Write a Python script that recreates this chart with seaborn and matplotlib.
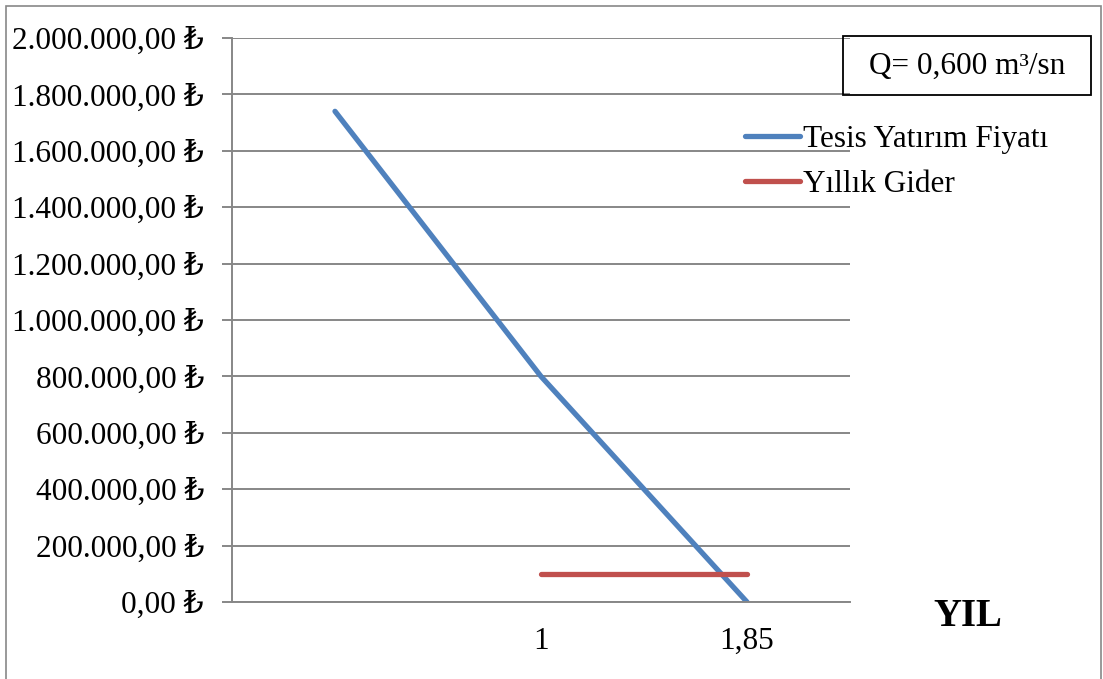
import numpy as np
import pandas as pd
import matplotlib
matplotlib.use("Agg")
import matplotlib.pyplot as plt
from matplotlib.patches import Rectangle
from matplotlib.ticker import FixedLocator, FuncFormatter
import seaborn as sns

# chart values
categories = ["", "1", "1,85"]
yatirim = [1740000, 800000, 0]          # Tesis Yatırım Fiyatı
gider = [np.nan, 100000, 100000]        # Yıllık Gider
y_ticks = list(range(0, 2000001, 200000))

sns.set_style("white")
plt.rcParams['font.family'] = ['Liberation Serif', 'DejaVu Serif', 'DejaVu Sans']
plt.rcParams['font.size'] = 22.5
plt.rcParams['text.color'] = 'black'
plt.rcParams['xtick.color'] = 'black'
plt.rcParams['ytick.color'] = 'black'
plt.rcParams['lines.solid_capstyle'] = 'round'

df = pd.DataFrame({
    'x': list(range(len(categories))) * 2,
    'value': yatirim + gider,
    'seri': ['Tesis Yatırım Fiyatı'] * len(categories) + ['Yıllık Gider'] * len(categories),
})

W, H = 1103, 679
fig = plt.figure(figsize=(W / 100, H / 100), dpi=100)
ax = fig.add_axes([232 / W, 1 - 602 / H, (850 - 232) / W, (602 - 38) / H])

sns.lineplot(data=df, x='x', y='value', hue='seri',
             palette={'Tesis Yatırım Fiyatı': '#4F81BD', 'Yıllık Gider': '#C0504D'},
             linewidth=3.8, ax=ax, legend=True)

grid_c = '#878787'
ax.set_xlim(-0.5, len(categories) - 0.5)
ax.set_ylim(0, 2000000)
ax.set_yticks(y_ticks)
ax.yaxis.set_major_formatter(FuncFormatter(
    lambda v, p: f"{v:,.2f}".replace(",", "X").replace(".", ",").replace("X", ".") + " ₺"))
ax.yaxis.grid(True, color=grid_c, linewidth=1.4)
ax.set_axisbelow(True)

ax.set_xticks(range(len(categories)))
ax.set_xticklabels(categories)
ax.xaxis.set_minor_locator(FixedLocator([i - 0.5 for i in range(len(categories) + 1)]))
ax.tick_params(axis='x', which='major', length=0, pad=18, labelcolor='black')
ax.tick_params(axis='x', which='minor', length=7.2, width=1.4, color=grid_c, direction='out')
ax.tick_params(axis='y', length=7.2, width=1.4, color=grid_c, direction='out', pad=13,
               left=True, labelcolor='black')
ax.set_xlabel('')
ax.set_ylabel('')

for s in ['top', 'right']:
    ax.spines[s].set_visible(False)
for s in ['left', 'bottom']:
    ax.spines[s].set_color(grid_c)
    ax.spines[s].set_linewidth(1.4)

leg = ax.legend(loc='upper left', bbox_to_anchor=(745 / W, 1 - 125 / H),
                bbox_transform=fig.transFigure, frameon=False,
                handlelength=1.75, handletextpad=0.1, labelspacing=0.5,
                borderpad=0, borderaxespad=0)
for line in leg.get_lines():
    line.set_linewidth(3.8)
for t in leg.get_texts():
    t.set_color('black')

# Q box
fig.patches.append(Rectangle((843 / W, 1 - 95 / H), (1091 - 843) / W, (95 - 36) / H,
                             transform=fig.transFigure, fill=False,
                             edgecolor='black', linewidth=1.3))
fig.text(967 / W, 1 - 66 / H, "Q= 0,600 m³/sn", ha='center', va='center')

fig.text(968 / W, 1 - 616 / H, "YIL", ha='center', va='center',
         fontsize=28, fontweight='bold')

# outer frame
fig.patches.append(Rectangle((6 / W, -0.01), (1101 - 6) / W, 1 - 6 / H + 0.01,
                             transform=fig.transFigure, fill=False,
                             edgecolor='#888888', linewidth=1.2))

fig.savefig('out.png', dpi=100)
